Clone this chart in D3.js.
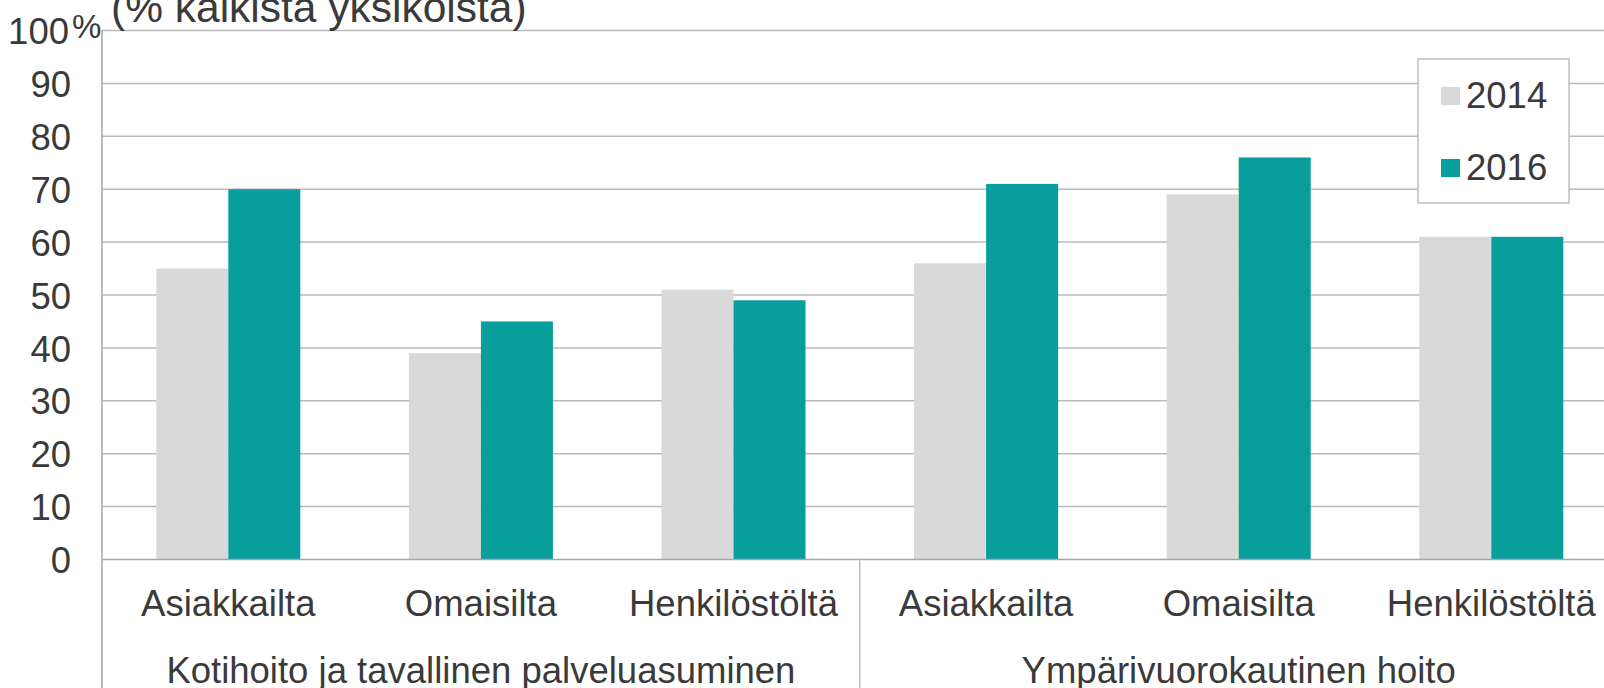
<!DOCTYPE html>
<html>
<head>
<meta charset="utf-8">
<script src="https://cdn.jsdelivr.net/npm/d3@7"></script>
<style>
  html, body { margin: 0; padding: 0; background: #fff; overflow: hidden; }
  #container { width: 1604px; height: 688px; }
  text { font-family: "Liberation Sans", Arial, sans-serif; fill: #3a3a3a; }
</style>
</head>
<body>
<div id="container"></div>
<script>
// chart data
const groups = ["Kotihoito ja tavallinen palveluasuminen", "Ympärivuorokautinen hoito"]
const categories = ["Asiakkailta", "Omaisilta", "Henkilöstöltä"]
const years = ["2014", "2016"]
const values2014 = [55, 39, 51, 56, 69, 61]
const values2016 = [70, 45, 49, 71, 76, 61]
const yTicks = [0, 10, 20, 30, 40, 50, 60, 70, 80, 90, 100]
const colors = ["#d9d9d9", "#079e9c"]

const container = d3.select("#container")

function drawChart() {

    const width = 1604
    const height = 688
    const margin = {top: 30.5, left: 102, bottom: 128.5}
    const bandWidth = 252.6

    container.selectAll("*").remove()

    const svg = container.append("svg")
                         .attr("width", width)
                         .attr("height", height)

    // one key per bar slot (group + category)
    const slots = []
    groups.forEach((g, gi) => categories.forEach((c, ci) => slots.push({
        key: gi + "-" + c, group: gi, name: c,
        values: [values2014[gi * 3 + ci], values2016[gi * 3 + ci]]
    })))

    const xScale = d3.scaleBand()
                     .domain(slots.map(d => d.key))
                     .range([margin.left, margin.left + bandWidth * slots.length])
                     .padding(0)
    const xInner = d3.scaleBand()
                     .domain(years)
                     .range([0, xScale.bandwidth()])
                     .paddingInner(0)
                     .paddingOuter(0.754)
    const yScale = d3.scaleLinear()
                     .domain([0, 100])
                     .range([height - margin.bottom, margin.top])

    // horizontal grid lines
    svg.selectAll(".grid-line")
       .data(yTicks.filter(d => d > 0))
       .join("line")
       .attr("class", "grid-line")
       .attr("x1", margin.left)
       .attr("x2", width)
       .attr("y1", d => yScale(d))
       .attr("y2", d => yScale(d))
       .attr("stroke", "#bababa")
       .attr("stroke-width", 1.5)

    // bars
    const slot = svg.selectAll(".slot")
                    .data(slots)
                    .join("g")
                    .attr("class", "slot")
                    .attr("transform", d => `translate(${xScale(d.key)}, 0)`)
    slot.selectAll("rect")
        .data(d => d.values.map((v, i) => ({year: years[i], value: v, i: i})))
        .join("rect")
        .attr("x", d => xInner(d.year))
        .attr("y", d => yScale(d.value))
        .attr("width", xInner.bandwidth())
        .attr("height", d => yScale(0) - yScale(d.value))
        .attr("fill", d => colors[d.i])

    // y axis labels
    const yAxis = d3.axisLeft(yScale)
                    .tickValues(yTicks)
                    .tickSize(0)
                    .tickPadding(31)
    const yAxisG = svg.append("g")
                      .attr("transform", `translate(${margin.left}, 0)`)
                      .call(yAxis)
    yAxisG.select(".domain").remove()
    yAxisG.selectAll("text")
          .attr("font-size", "36.5px")
          .attr("font-family", null)
          .attr("fill", "#3a3a3a")
          .attr("dy", "0.36em")
          .attr("dx", d => d === 100 ? -2 : 0)
    svg.append("text")
       .attr("x", 72)
       .attr("y", 38)
       .attr("font-size", "33px")
       .text("%")

    // title (partly clipped at top)
    svg.append("text")
       .attr("x", 111)
       .attr("y", 22)
       .attr("font-size", "42.5px")
       .text("(% kaikista yksiköistä)")

    // axis lines
    svg.append("line")
       .attr("x1", margin.left).attr("x2", margin.left)
       .attr("y1", margin.top).attr("y2", height)
       .attr("stroke", "#a6a6a6").attr("stroke-width", 1.5)
    svg.append("line")
       .attr("x1", margin.left).attr("x2", width)
       .attr("y1", yScale(0)).attr("y2", yScale(0))
       .attr("stroke", "#a6a6a6").attr("stroke-width", 1.5)

    // group dividers under the axis
    svg.selectAll(".divider")
       .data(groups.slice(1).map((g, i) => (i + 1) * categories.length))
       .join("line")
       .attr("class", "divider")
       .attr("x1", d => xScale(slots[d].key))
       .attr("x2", d => xScale(slots[d].key))
       .attr("y1", yScale(0))
       .attr("y2", height)
       .attr("stroke", "#bfbfbf")
       .attr("stroke-width", 1.5)

    // category labels
    svg.selectAll(".cat-label")
       .data(slots)
       .join("text")
       .attr("class", "cat-label")
       .attr("x", d => xScale(d.key) + xScale.bandwidth() / 2)
       .attr("y", 616)
       .attr("text-anchor", "middle")
       .attr("font-size", "36.5px")
       .text(d => d.name)

    // group labels
    svg.selectAll(".group-label")
       .data(groups)
       .join("text")
       .attr("class", "group-label")
       .attr("x", (d, i) => xScale(slots[i * 3].key) + xScale.bandwidth() * 1.5)
       .attr("y", 683)
       .attr("text-anchor", "middle")
       .attr("font-size", "36.5px")
       .text(d => d)

    // legend
    const legend = svg.append("g")
    legend.append("rect")
          .attr("x", 1418).attr("y", 59)
          .attr("width", 151).attr("height", 144)
          .attr("fill", "#fff")
          .attr("stroke", "#bfbfbf")
          .attr("stroke-width", 1.5)
    const item = legend.selectAll(".item")
                       .data(years)
                       .join("g")
                       .attr("class", "item")
                       .attr("transform", (d, i) => `translate(1441, ${87 + i * 72})`)
    item.append("rect")
        .attr("width", 19).attr("height", 18)
        .attr("fill", (d, i) => colors[i])
    item.append("text")
        .attr("x", 25)
        .attr("y", 21)
        .attr("font-size", "36.5px")
        .text(d => d)
}

drawChart()
</script>
</body>
</html>
